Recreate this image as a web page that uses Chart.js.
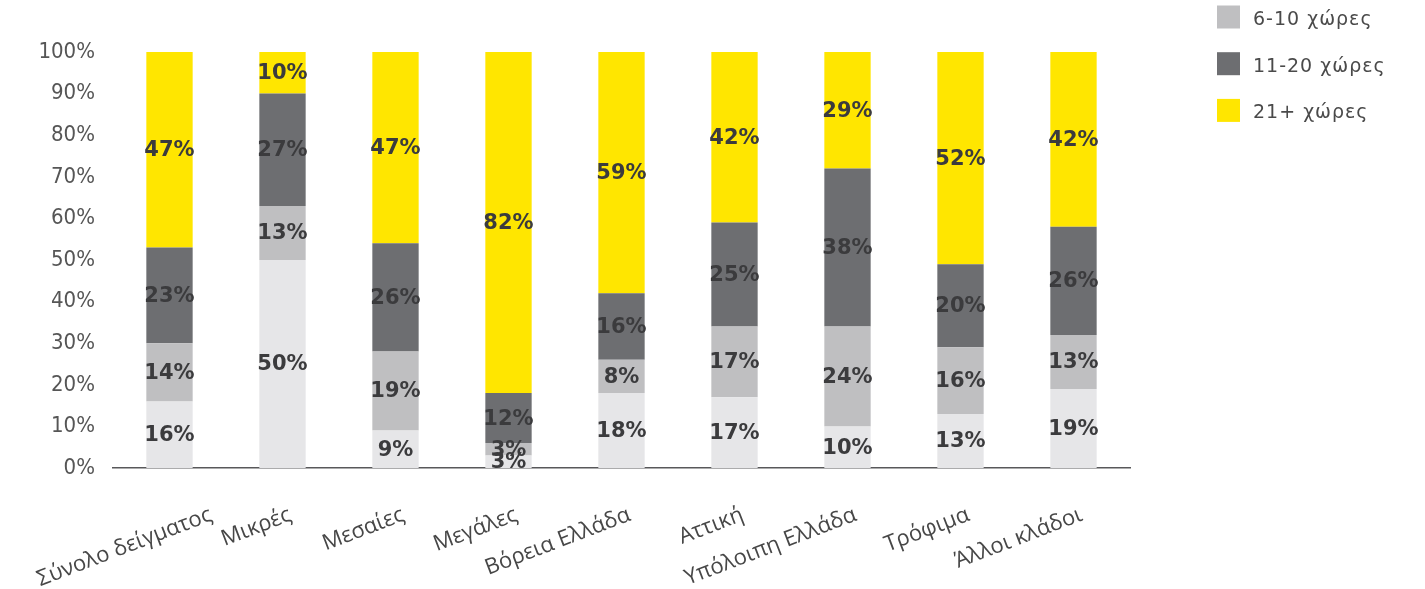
<!DOCTYPE html>
<html lang="el">
<head>
<meta charset="utf-8">
<title>Χώρες εξαγωγής</title>
<script src="https://cdn.jsdelivr.net/npm/chart.js@4/dist/chart.umd.min.js"></script>
<style>
  html, body { margin: 0; padding: 0; background: #fff; }
  #wrap { width: 1425px; height: 589px; position: relative; }
</style>
</head>
<body>
<div id="wrap"><canvas id="chart"></canvas></div>
<script>
const categories = [
  'Σύνολο δείγματος', 'Μικρές', 'Μεσαίες', 'Μεγάλες', 'Βόρεια Ελλάδα',
  'Αττική', 'Υπόλοιπη Ελλάδα', 'Τρόφιμα', 'Άλλοι κλάδοι'
]
const seriesNames = ['1-5 χώρες', '6-10 χώρες', '11-20 χώρες', '21+ χώρες']
const share1to5 = [16, 50, 9, 3, 18, 17, 10, 13, 19]
const share6to10 = [14, 13, 19, 3, 8, 17, 24, 16, 13]
const share11to20 = [23, 27, 26, 12, 16, 25, 38, 20, 26]
const share21plus = [47, 10, 47, 82, 59, 42, 29, 52, 42]
const yTicks = [0, 10, 20, 30, 40, 50, 60, 70, 80, 90, 100]

const colors = ['#e6e6e8', '#bfbfc1', '#6d6e71', '#ffe600']
const seriesValues = [share1to5, share6to10, share11to20, share21plus]

// percentage written in the middle of every stacked segment
const segmentLabels = {
  id: 'segmentLabels',
  afterDatasetsDraw(chart) {
    const ctx = chart.ctx
    ctx.save()
    ctx.font = 'bold 21px "DejaVu Sans", Verdana, sans-serif'
    ctx.fillStyle = '#3b3b3d'
    ctx.textAlign = 'center'
    ctx.textBaseline = 'middle'
    chart.data.datasets.forEach((ds, i) => {
      const meta = chart.getDatasetMeta(i)
      meta.data.forEach((bar, j) => {
        const { x, y, base } = bar.getProps(['x', 'y', 'base'], true)
        const top = Math.max(y, chart.chartArea.top)
        ctx.fillText(ds.data[j] + '%', x, (top + base) / 2 + 1)
      })
    })
    ctx.restore()
  },
}

// slanted category names under the x axis, kept inside the left edge
const slantedLabels = {
  id: 'slantedLabels',
  afterDraw(chart, args, opts) {
    const ctx = chart.ctx
    const scale = chart.scales.x
    const angle = (opts.rotation * Math.PI) / 180
    ctx.save()
    ctx.font = opts.font
    ctx.fillStyle = opts.color
    ctx.textAlign = 'right'
    ctx.textBaseline = 'middle'
    const y = chart.chartArea.bottom + opts.offsetY
    chart.data.labels.forEach((label, i) => {
      const w = ctx.measureText(label).width
      let x = scale.getPixelForTick(i) + opts.offsetX
      const leftEnd = x - w * Math.cos(angle)
      if (leftEnd < opts.minLeft) x += opts.minLeft - leftEnd
      ctx.save()
      ctx.translate(x, y)
      ctx.rotate(-angle)
      ctx.fillText(label, 0, 0)
      ctx.restore()
    })
    ctx.restore()
  },
}

// vertical legend in the top right corner
const sideLegend = {
  id: 'sideLegend',
  afterDraw(chart, args, opts) {
    const ctx = chart.ctx
    ctx.save()
    ctx.font = opts.font
    ctx.letterSpacing = opts.letterSpacing
    ctx.textBaseline = 'middle'
    let y = opts.top
    chart.data.datasets.forEach((ds) => {
      if (ds.skipLegend) return
      ctx.fillStyle = ds.backgroundColor
      ctx.fillRect(opts.left, y - opts.box / 2, opts.box, opts.box)
      ctx.fillStyle = opts.color
      ctx.fillText(ds.label, opts.left + opts.box + opts.gap, y + 3)
      y += opts.spacing
    })
    ctx.restore()
  },
}

new Chart(document.getElementById('chart'), {
  type: 'bar',
  data: {
    labels: categories,
    datasets: seriesNames.map((name, i) => ({
      label: name,
      data: seriesValues[i],
      backgroundColor: colors[i],
      borderWidth: 0,
      barPercentage: 0.41,
      categoryPercentage: 1,
      clip: 0,
      skipLegend: i === 0,
    })),
  },
  options: {
    responsive: true,
    maintainAspectRatio: false,
    animation: false,
    layout: { padding: { top: 52, right: 295, bottom: 0, left: 0 } },
    plugins: {
      legend: { display: false },
      tooltip: { enabled: false },
      slantedLabels: {
        rotation: 21,
        offsetX: 8,
        offsetY: 46,
        minLeft: 38,
        font: '22px "Open Sans", sans-serif',
        color: '#474747',
      },
      sideLegend: {
        left: 1217,
        top: 17,
        box: 23,
        gap: 13,
        spacing: 46.7,
        font: '19px "DejaVu Sans", Verdana, sans-serif',
        letterSpacing: '1px',
        color: '#4a4a4a',
      },
    },
    scales: {
      x: {
        stacked: true,
        grid: { display: false, drawTicks: false },
        border: { display: true, color: '#58585a', width: 1.5 },
        ticks: { display: false },
        afterFit: (scale) => {
          scale.height = 121
          scale.paddingLeft = 0
          scale.paddingRight = 0
        },
      },
      y: {
        stacked: true,
        min: 0,
        max: 100,
        grid: { display: false, drawTicks: false },
        border: { display: false },
        afterBuildTicks: (scale) => { scale.ticks = yTicks.map((v) => ({ value: v })) },
        ticks: {
          padding: 18,
          color: '#565656',
          font: { family: '"DejaVu Sans Condensed", "DejaVu Sans", sans-serif', size: 22 },
          callback: (v) => v + '%',
        },
        afterFit: (scale) => { scale.width = 113 },
      },
    },
  },
  plugins: [segmentLabels, slantedLabels, sideLegend],
})
</script>
</body>
</html>
